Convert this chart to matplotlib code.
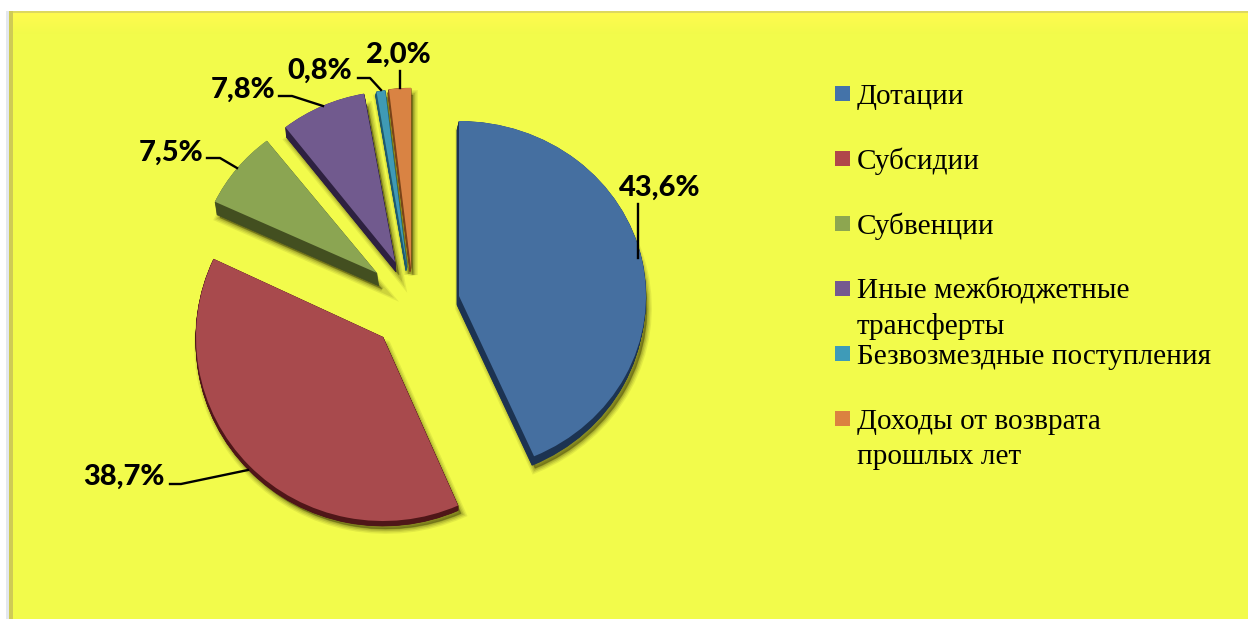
import numpy as np
import matplotlib
matplotlib.use('Agg')
import matplotlib.pyplot as plt
from matplotlib.patches import Rectangle
from matplotlib.transforms import Affine2D

categories = ['Дотации', 'Субсидии', 'Субвенции', 'Иные межбюджетные\nтрансферты',
              'Безвозмездные поступления', 'Доходы от возврата\nпрошлых лет']
values = [43.6, 38.7, 7.5, 7.8, 0.8, 2.0]

top_colors = ['#456FA0', '#A84A4D', '#8BA552', '#715A8E', '#3F9AB5', '#D98343']
side_colors = ['#1C3351', '#4F1618', '#434F20', '#2E2140', '#1E5A6E', '#7A4318']
legend_colors = ['#4473A9', '#B0474A', '#8DA650', '#75598F', '#3E9BB8', '#DB8240']

# where each exploded slice sits, in pixels: apex x, apex y, radius x, radius y
geometry = [(459, 296, 187, 175), (383, 337, 187, 184), (377, 273, 179, 168),
            (395, 262, 178, 171), (407, 267, 175, 178), (411, 268, 177, 180)]
# extrusion of the slice: dx, dy
depth = [(-2, 9), (0, 5), (2, 13), (1, 10), (-1, 4), (-1, 4)]

# label centre and leader line for each slice
label_pos = [(660, 188), (124, 477), (171, 153), (243, 90), (320, 71), (398, 55)]
leaders = [[(638, 204), (638, 258)],
           [(170, 484), (181, 484), (248, 470)],
           [(207, 158), (220, 158), (237, 168)],
           [(279, 96), (292, 96), (323, 106)],
           [(358, 78), (370, 78), (381, 90)],
           [(400, 71), (400, 88)]]

legend_y = [104, 169, 234, 299, 364, 429]

W, H = 1248, 619
fig = plt.figure(figsize=(W / 100, H / 100), dpi=100, facecolor='white')
ax = fig.add_axes([0, 0, 1, 1])


def draw_slice(frac, start, geo, dx, dy, color, z, **kw):
    # one wedge of the pie, squeezed to the tilted ellipse and moved to its place
    patches, _ = ax.pie([frac], startangle=start, normalize=False, radius=1, center=(0, 0),
                        colors=[color], wedgeprops=kw)
    w = patches[0]
    w.set_transform(Affine2D().scale(geo[2], geo[3]).translate(geo[0] + dx, geo[1] + dy) + ax.transData)
    w.set_zorder(z)
    return w


total = sum(values)
start = -90.0
for i, v in enumerate(values):
    frac = v / total
    geo = geometry[i]
    dx, dy = depth[i]
    # soft olive shadow
    for lw, a in [(7, 0.10), (5, 0.14), (3, 0.2), (1, 0.3)]:
        draw_slice(frac, start, geo, dx + 3, dy + 3, (0.33, 0.33, 0.05), 2,
                   alpha=a, edgecolor=(0.33, 0.33, 0.05), linewidth=lw)
    # side of the slice
    for s in np.linspace(1, 0.05, 12):
        draw_slice(frac, start, geo, dx * s, dy * s, side_colors[i], 3,
                   edgecolor=side_colors[i], linewidth=0.5)
    draw_slice(frac, start, geo, 0, 0, top_colors[i], 4, linewidth=0)
    start += frac * 360

ax.set_xlim(0, W)
ax.set_ylim(H, 0)
ax.set_aspect('auto')
ax.axis('off')

# yellow panel
ax.add_patch(Rectangle((9, 11), W, H, facecolor='#F2FB4B', edgecolor='none', zorder=0))
grad = np.array([[1.0, 0.98, 0.31], [1.0, 0.98, 0.31], [0.95, 0.984, 0.294]])
band = np.linspace(0, 1, 20)[:, None]
top_band = grad[0] * (1 - band) + grad[2] * band
ax.imshow(top_band[:, None, :], extent=(9, W, 34, 12), aspect='auto', zorder=0.5)
ax.add_patch(Rectangle((9, 11), W, 1.5, facecolor='#DDD860', edgecolor='none', zorder=1))
ax.add_patch(Rectangle((9, 11), 3.5, H, facecolor='#CFCB55', edgecolor='none', zorder=1))
ax.add_patch(Rectangle((6, 11), 3, H, facecolor='#E4E8EE', edgecolor='none', zorder=1))
ax.set_xlim(0, W)
ax.set_ylim(H, 0)

# percent labels with leaders
for v, pos, line in zip(values, label_pos, leaders):
    txt = f'{v:.1f}%'.replace('.', ',')
    ax.text(pos[0], pos[1], txt, family='Lato', fontweight='black', fontsize=21,
            color='black', ha='center', va='center', zorder=6)
    ax.plot([p[0] for p in line], [p[1] for p in line], color='black', lw=1.7, zorder=5)

# legend
for cat, col, y in zip(categories, legend_colors, legend_y):
    ax.add_patch(Rectangle((835, y - 18), 15, 15, facecolor=col, edgecolor='none', zorder=5))
    for j, part in enumerate(cat.split('\n')):
        ax.text(857, y + j * 34.5, part, family='Liberation Serif', fontsize=21.1,
                color='black', ha='left', va='baseline', zorder=6)

fig.savefig('out.png', dpi=100, facecolor='white')
